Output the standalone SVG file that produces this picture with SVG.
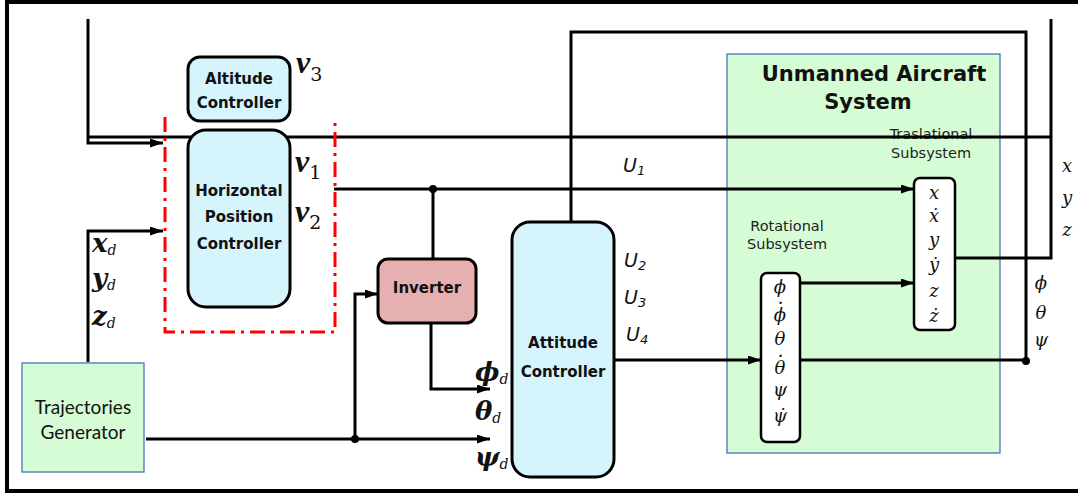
<svg xmlns="http://www.w3.org/2000/svg" width="1078" height="497" viewBox="0 0 1078 497">
<style>
.frame{fill:none;stroke:#000;stroke-width:4}
.ln{fill:none;stroke:#000;stroke-width:3}
.ar{fill:none;stroke:#000;stroke-width:3;marker-end:url(#ah)}
.dot{fill:#000}
.ctl{fill:#d6f4fc;stroke:#000;stroke-width:3}
.inv{fill:#e7b0b0;stroke:#000;stroke-width:3}
.grn{fill:#d5fcd5;stroke:#4a72bf;stroke-width:1.3}
.st{fill:#fff;stroke:#000;stroke-width:2.5}
.red{fill:none;stroke:#ff0000;stroke-width:3;stroke-dasharray:15 6 3 6}
.bt{font-family:"DejaVu Sans",Verdana,sans-serif;font-weight:bold;font-size:15px;fill:#111;text-anchor:middle}
.tt{font-family:"DejaVu Sans",Verdana,sans-serif;font-weight:bold;font-size:21px;fill:#111;text-anchor:middle}
.sub{font-family:"DejaVu Sans",Verdana,sans-serif;font-size:14.5px;fill:#222;text-anchor:middle}
.tg{font-family:Lato,"Liberation Sans",sans-serif;font-size:19px;fill:#111;text-anchor:middle}
.u{font-family:"DejaVu Sans",Verdana,sans-serif;font-style:italic;font-size:19px;fill:#111}
.mb{font-family:"DejaVu Serif","Liberation Serif",serif;font-style:italic;font-weight:bold;font-size:26px;fill:#111}
.ms{font-family:"DejaVu Serif","Liberation Serif",serif;font-style:italic;font-size:14px;font-weight:normal}
.m{font-family:"DejaVu Serif","Liberation Serif",serif;font-style:italic;font-size:18px;fill:#111;text-anchor:middle}
.v{font-family:"Liberation Serif","DejaVu Serif",serif;font-style:italic;font-weight:bold;font-size:32px;fill:#111}
.vs{font-family:"DejaVu Serif","Liberation Serif",serif;font-style:normal;font-weight:normal;font-size:19px}
</style>
<defs>
<marker id="ah" markerUnits="userSpaceOnUse" markerWidth="13" markerHeight="9" refX="13" refY="4.5" orient="auto">
<path d="M0,0 L13,4.5 L0,9 z" fill="#000"/>
</marker>
</defs>

<path class="frame" d="M1078,2 H7 V491 H1078"/>

<g id="uas">
<rect class="grn" x="727" y="54" width="273" height="399"/>
<text class="tt" x="874" y="81">Unmanned Aircraft</text>
<text class="tt" x="868" y="109">System</text>
<text class="sub" x="931" y="139">Traslational</text>
<text class="sub" x="931" y="158">Subsystem</text>
<text class="sub" x="787" y="231">Rotational</text>
<text class="sub" x="787" y="249">Subsystem</text>
</g>

<g id="trajectories-generator">
<rect class="grn" x="22" y="363" width="122" height="109"/>
<text class="tg" x="83" y="414">Trajectories</text>
<text class="tg" x="83" y="439">Generator</text>
</g>

<g id="connectors">
<path class="ln" d="M88,137 H1051"/>
<path class="ln" d="M955,258 H1051 V19"/>
<path class="ar" d="M88,19 V143 H163"/>
<path class="ar" d="M88,362 V231 H163"/>
<path class="ar" d="M334,189 H914"/>
<path class="ln" d="M433,189 V259"/>
<path class="ar" d="M431,323 V389 H490"/>
<path class="ar" d="M146,439 H490"/>
<path class="ar" d="M355,439 V294 H378"/>
<path class="ln" d="M571,222 V32 H1026 V361"/>
<path class="ar" d="M615,360 H761"/>
<path class="ln" d="M800,360 H1026"/>
<path class="ar" d="M800,283 H914"/>
<circle class="dot" cx="433" cy="189" r="4"/>
<circle class="dot" cx="355" cy="439" r="4"/>
<circle class="dot" cx="1026" cy="361" r="4"/>
</g>

<g id="hpc-group">
<path class="red" d="M165,117 V332 H335 V117"/>
</g>

<g id="altitude-controller">
<rect class="ctl" x="188" y="57" width="102" height="64" rx="12"/>
<text class="bt" x="239" y="84">Altitude</text>
<text class="bt" x="239" y="108">Controller</text>
</g>

<g id="horizontal-position-controller">
<rect class="ctl" x="188" y="130" width="102" height="177" rx="18"/>
<text class="bt" x="239" y="196">Horizontal</text>
<text class="bt" x="239" y="222">Position</text>
<text class="bt" x="239" y="249">Controller</text>
</g>

<g id="inverter">
<rect class="inv" x="378" y="259" width="98" height="64" rx="10"/>
<text class="bt" x="427" y="293">Inverter</text>
</g>

<g id="attitude-controller">
<rect class="ctl" x="512" y="222" width="102" height="255" rx="18"/>
<text class="bt" x="563" y="348">Attitude</text>
<text class="bt" x="563" y="377">Controller</text>
</g>

<g id="rotational-states">
<rect class="st" x="761" y="273" width="39" height="169" rx="6"/>
<text class="m"><tspan x="780" y="293">ϕ</tspan><tspan x="780.5" y="309">·</tspan><tspan x="780" y="321">ϕ</tspan><tspan x="780" y="345">θ</tspan><tspan x="780.5" y="362">·</tspan><tspan x="780" y="374">θ</tspan><tspan x="780" y="396">ψ</tspan><tspan x="780" y="422">ψ̇</tspan></text>
</g>

<g id="translational-states">
<rect class="st" x="914" y="178" width="41" height="152" rx="6"/>
<text class="m"><tspan x="934" y="199">x</tspan><tspan x="934" y="222">ẋ</tspan><tspan x="934" y="246">y</tspan><tspan x="934" y="271">ẏ</tspan><tspan x="934" y="297">z</tspan><tspan x="934" y="322">ż</tspan></text>
</g>

<g id="labels">
<text class="v" x="296" y="73">v<tspan class="vs" dy="8">3</tspan></text>
<text class="v" x="295" y="172">v<tspan class="vs" dy="7">1</tspan></text>
<text class="v" x="295" y="222">v<tspan class="vs" dy="7">2</tspan></text>
<text class="mb" x="92" y="252">x<tspan class="ms" dy="3">d</tspan></text>
<text class="mb" x="92" y="287">y<tspan class="ms" dy="3">d</tspan></text>
<text class="mb" x="92" y="325">z<tspan class="ms" dy="3">d</tspan></text>
<text class="mb" x="475" y="381">ϕ<tspan class="ms" dy="3">d</tspan></text>
<text class="mb" x="475" y="420">θ<tspan class="ms" dy="3">d</tspan></text>
<text class="mb" x="475" y="466">ψ<tspan class="ms" dy="3">d</tspan></text>
<text class="u" x="623" y="172">U<tspan font-size="13" dy="3">1</tspan></text>
<text class="u" x="624" y="267">U<tspan font-size="13" dy="3">2</tspan></text>
<text class="u" x="624" y="304">U<tspan font-size="13" dy="3">3</tspan></text>
<text class="u" x="626" y="341">U<tspan font-size="13" dy="3">4</tspan></text>
<text class="m" x="1067" y="172">x</text>
<text class="m" x="1067" y="204">y</text>
<text class="m" x="1067" y="236">z</text>
<text class="m" x="1041" y="289">ϕ</text>
<text class="m" x="1041" y="319">θ</text>
<text class="m" x="1041" y="346">ψ</text>
</g>
</svg>
